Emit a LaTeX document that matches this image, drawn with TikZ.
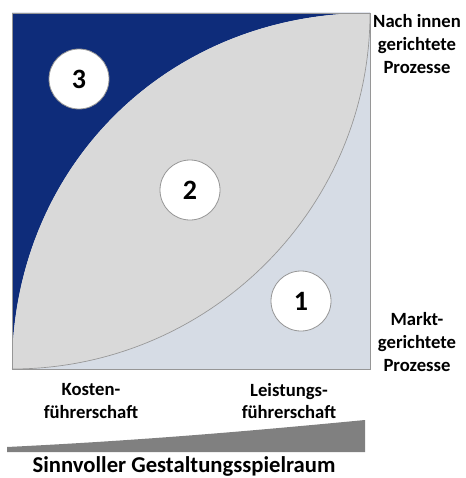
\documentclass[tikz,border=0pt]{standalone}
\usepackage{fontspec}
\setmainfont{Carlito}
\usepackage{tikz}

\definecolor{navyfield}{RGB}{14,44,122}
\definecolor{lensgray}{RGB}{217,217,217}
\definecolor{marketblue}{RGB}{214,220,229}
\definecolor{wedgegray}{RGB}{128,128,128}
\definecolor{edgegray}{RGB}{150,150,150}

\tikzset{
  numcircle/.style={circle, fill=white, draw=edgegray, line width=0.6pt, minimum size=45pt, inner sep=0pt, font=\bfseries\fontsize{21}{24}\selectfont},
  sidelabel/.style={align=center, inner sep=0.75pt, font=\bfseries\fontsize{14}{17}\selectfont},
}

\begin{document}
\begin{tikzpicture}[x=0.75pt,y=0.75pt,yscale=-1,xscale=1]
\useasboundingbox (0,0) rectangle (465,478);

%Shape: Square [id:market]
\fill [color=marketblue] (12,13) rectangle (370,369) ;
%Shape: Corner [id:inward]
\fill [color=navyfield] (12,369) .. controls (12,167) and (167,13) .. (370,13) -- (12,13) -- cycle ;
%Shape: Lens [id:lens]
\fill [color=lensgray] (12,369) .. controls (12,167) and (167,13) .. (370,13) .. controls (370,209) and (209,369) .. (12,369) -- cycle ;
%Curve Lines [id:lower]
\draw [color=edgegray, line width=0.5pt] (12,369) .. controls (209,369) and (370,209) .. (370,13) ;
%Shape: Frame [id:frame]
\draw [color=edgegray, line width=0.6pt] (12,13) rectangle (370,369) ;

%Shape: Wedge [id:wedge]
\fill [color=wedgegray] (7,452) -- (7,447) .. controls (150,440) and (260,430) .. (365,420) -- (365,452) -- cycle ;

% Circle Nodes
\node [numcircle] (three) at (79,79) {3};
\node [numcircle] (two) at (190,190) {2};
\node [numcircle] (one) at (301,301) {1};

% Text Node
\node [sidelabel] (inwardlabel) at (417,44) {Nach innen\\gerichtete\\Prozesse};
% Text Node
\node [sidelabel] (marketlabel) at (417,342) {Markt-\\gerichtete\\Prozesse};
% Text Node
\node [sidelabel] (costlabel) at (91,401) {Kosten-\\führerschaft};
% Text Node
\node [sidelabel] (perflabel) at (289,401) {Leistungs-\\führerschaft};
% Text Node
\node [inner sep=0.75pt, font=\bfseries\fontsize{17}{20}\selectfont] (scopelabel) at (184,466) {Sinnvoller Gestaltungsspielraum};

\end{tikzpicture}
\end{document}
